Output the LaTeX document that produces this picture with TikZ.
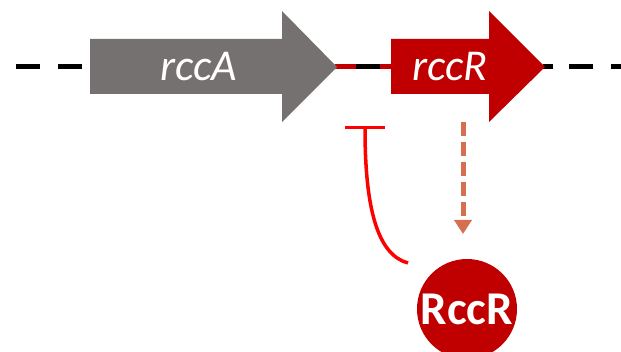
\documentclass[tikz,border=0pt]{standalone}
\usepackage{fontspec}
\setmainfont{Carlito}
\usetikzlibrary{arrows.meta}
\definecolor{geneGray}{HTML}{767171}
\definecolor{geneRed}{HTML}{C00000}
\definecolor{inhRed}{HTML}{FF0000}
\definecolor{actOrange}{HTML}{D66E50}
\tikzset{
  dnaline/.style={line width=5pt, dash pattern=on 24pt off 18pt},
  genetext/.style={text=white, font=\fontsize{44}{44}\selectfont\itshape, inner sep=0pt},
  protein/.style={circle, fill=geneRed, minimum size=100pt, inner sep=0pt, text=white, font=\fontsize{47}{47}\selectfont\bfseries},
  inhib/.style={inhRed, line width=3.5pt, -{Bar[width=40pt]}},
  activ/.style={actOrange, line width=5pt, dash pattern=on 14pt off 6pt, -{Triangle[width=17pt,length=14pt]}}
}
\begin{document}
\begin{tikzpicture}[x=1pt,y=-1pt]
\useasboundingbox (0,0) rectangle (621,352);
% DNA line
\draw[dnaline, dash phase=0pt] (16,67) -- (90,67);
\draw[black, line width=5pt] (356,67) -- (380,67);
\draw[geneRed, line width=5pt] (335,67) -- (356,67);
\draw[geneRed, line width=5pt] (380,67) -- (392,67);
\draw[black, line width=5pt] (543,67) -- (553,67);
\draw[black, line width=5pt] (569,67) -- (593,67);
\draw[black, line width=5pt] (611,67) -- (621,67);
% genes
\fill[geneGray] (90,39) -- (282,39) -- (282,11) -- (337,67) -- (282,122) -- (282,94) -- (90,94) -- cycle;
\node[genetext] (rccA) at (199,67) {rccA};
\fill[geneRed] (391,39) -- (489,39) -- (489,11) -- (545,67) -- (489,122) -- (489,94) -- (391,94) -- cycle;
\node[genetext] (rccR) at (450,67) {rccR};
% protein
\node[protein] (RccR) at (467,309) {RccR};
\coordinate (inhStart) at (408,263);
\coordinate (inhEnd) at (365,126);
\coordinate (actStart) at (463,122);
\coordinate (actEnd) at (463,234);
\draw[inhib] (inhStart) .. controls (378,255) and (365,210) .. (inhEnd);
\draw[activ] (actStart) -- (actEnd);
\end{tikzpicture}
\end{document}
